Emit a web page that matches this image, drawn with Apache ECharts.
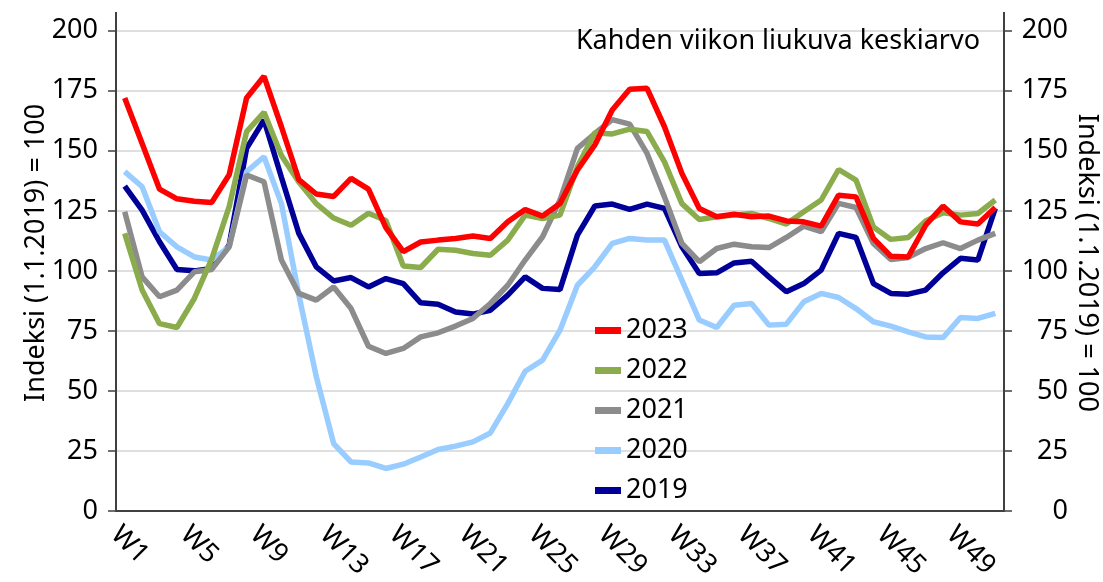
<!DOCTYPE html>
<html>
<head>
<meta charset="utf-8">
<script src="https://cdn.jsdelivr.net/npm/echarts@6/dist/echarts.min.js"></script>
<style>
    html, body { margin: 0; padding: 0; background: #fff; }
    #chart { width: 1103px; height: 582px; }
</style>
</head>
<body>
<div id="chart"></div>
<script>
// viikot W1..W51
const weeks = Array.from({ length: 51 }, (_, i) => 'W' + (i + 1));

// indeksi (1.1.2019) = 100, kahden viikon liukuva keskiarvo
const y2023 = [172, 153, 134, 130, 129, 128.5, 140, 172, 181, 160,
    138, 132, 131, 138.5, 134, 118, 108, 112, 112.8, 113.5,
    114.5, 113.5, 120.4, 125.5, 122.8, 128, 142, 152.4, 167, 175.6,
    176, 160, 140.6, 126, 122.5, 123.6, 122.5, 122.8, 120.8, 120.4,
    118.6, 131.5, 130.8, 113.5, 106.1, 105.8, 119, 127, 120.4, 119.5, 126.4];
const y2022 = [115.6, 92, 78, 76.4, 88.5, 105, 126.7, 158, 166, 148,
    137, 128, 122, 119, 124, 121, 102, 101.4, 109, 108.6,
    107.2, 106.5, 112.8, 123.2, 121.8, 123.2, 143.3, 157.5, 157, 159,
    158, 145.4, 128, 121.4, 122.5, 123.2, 123.9, 121.8, 119.5, 124.6,
    129.5, 142.2, 137.8, 118.3, 113.1, 113.9, 120.8, 124.2, 123.2, 123.9, 129.5];
const y2021 = [124.6, 97.5, 89.2, 92, 99.6, 100.6, 110, 139.9, 137.1, 104.5,
    90.6, 87.8, 93.3, 84.3, 68.6, 65.6, 67.7, 72.5, 74.2, 77,
    80.2, 86.4, 94, 104.5, 114.2, 129.5, 151, 157.2, 163, 161.1,
    148.9, 130.8, 111.4, 103.8, 109.3, 111.1, 110, 109.7, 113.9, 118.6,
    116.3, 128.1, 126.4, 111.4, 104.7, 105.6, 109.3, 111.7, 109.3, 112.8, 115.6];
const y2020 = [141.3, 135, 116.3, 110, 105.8, 104.5, 110, 141.3, 147.5, 128,
    90, 56, 28.1, 20.4, 20, 17.7, 19.5, 22.5, 25.6, 27,
    28.8, 32.5, 44.7, 58.2, 62.8, 75.3, 94, 101.7, 111.4, 113.5,
    112.8, 112.8, 96.1, 79.5, 76.4, 85.7, 86.4, 77.4, 77.8, 87.1,
    90.6, 88.9, 84.3, 78.8, 77, 74.6, 72.5, 72.2, 80.6, 80.2, 82.3];
const y2019 = [135.3, 125.3, 112.1, 100.6, 100, 101, 110.7, 151, 162.8, 139,
    115.6, 101.7, 95.8, 97.2, 93.3, 96.8, 94.7, 86.7, 86.1, 82.9,
    82, 83.6, 89.9, 97.5, 92.7, 92.2, 114.9, 127, 127.8, 125.6,
    127.8, 126, 110, 98.9, 99.2, 103.3, 104, 97.5, 91.3, 94.7,
    100.3, 115.6, 113.9, 94.7, 90.6, 90.3, 92, 99.2, 105.2, 104.5, 126];

const yearNames = ['2019', '2020', '2021', '2022', '2023'];
const yearColors = ['#000099', '#99ccff', '#8c8c8c', '#8aac4c', '#ff0000'];
const yearValues = [y2019, y2020, y2021, y2022, y2023];

const font = '"Noto Sans", "Open Sans", sans-serif';
const fontSize = 27;
const axisColor = '#404040';

const myChart = echarts.init(document.getElementById('chart'), null, { renderer: 'canvas' });

const yAxisBase = {
    type: 'value',
    min: 0,
    max: 200,
    interval: 25,
    name: 'Indeksi (1.1.2019) = 100',
    nameLocation: 'middle',
    nameMoveOverlap: false,
    axisLine: { show: true, lineStyle: { color: axisColor, width: 2 } },
    axisTick: { show: true, length: 8, lineStyle: { color: axisColor, width: 1.5 } },
    axisLabel: { fontFamily: font, fontSize: fontSize, color: '#000', align: 'right' },
};

const option = {
    animation: false,
    textStyle: { fontFamily: font },
    title: {
        text: 'Kahden viikon liukuva keskiarvo',
        right: 118,
        top: 23,
        textStyle: { fontFamily: font, fontSize: fontSize, fontWeight: 'normal', color: '#000' }
    },
    legend: {
        data: ['2023', '2022', '2021', '2020', '2019'],
        orient: 'vertical',
        left: 590,
        top: 312,
        icon: 'rect',
        itemWidth: 26,
        itemHeight: 7,
        itemGap: 13,
        textStyle: { fontFamily: font, fontSize: fontSize, color: '#000' }
    },
    grid: { left: 116, right: 99, top: 30.7, bottom: 71, outerBoundsMode: 'none' },
    xAxis: {
        type: 'category',
        data: weeks,
        boundaryGap: true,
        axisLine: { lineStyle: { color: axisColor, width: 2 } },
        axisTick: { interval: 3, length: 6, lineStyle: { color: axisColor, width: 1.5 } },
        axisLabel: {
            interval: 3, rotate: -45, margin: 10, verticalAlign: 'top',
            fontFamily: font, fontSize: fontSize, color: '#000'
        }
    },
    yAxis: [
        Object.assign({}, yAxisBase, {
            position: 'left',
            nameGap: 66,
            nameTextStyle: { fontFamily: font, fontSize: fontSize, color: '#000', padding: [0, 0, 0, 36] },
            axisLabel: Object.assign({}, yAxisBase.axisLabel, { margin: 18 }),
            splitLine: { show: true, lineStyle: { color: '#d4d4d4', width: 1.5 } }
        }),
        Object.assign({}, yAxisBase, {
            position: 'right',
            nameGap: 69,
            nameRotate: -90,
            nameTextStyle: { fontFamily: font, fontSize: fontSize, color: '#000', padding: [0, 16, 0, 0] },
            axisLabel: Object.assign({}, yAxisBase.axisLabel, { margin: 64 }),
            splitLine: { show: false }
        })
    ],
    series: yearNames.map((name, i) => ({
        name: name,
        type: 'line',
        data: yearValues[i],
        symbol: 'none',
        color: yearColors[i],
        lineStyle: { width: 5.5, color: yearColors[i] },
        z: 2 + i
    })),
    graphic: [
        // akselit jatkuvat hieman 200:n yli
        { type: 'line', shape: { x1: 116, y1: 12, x2: 116, y2: 31 }, style: { stroke: axisColor, lineWidth: 2 } },
        { type: 'line', shape: { x1: 1004, y1: 12, x2: 1004, y2: 31 }, style: { stroke: axisColor, lineWidth: 2 } }
    ]
};

myChart.setOption(option);
window.addEventListener('resize', () => {
    myChart.resize();
});
</script>
</body>
</html>
